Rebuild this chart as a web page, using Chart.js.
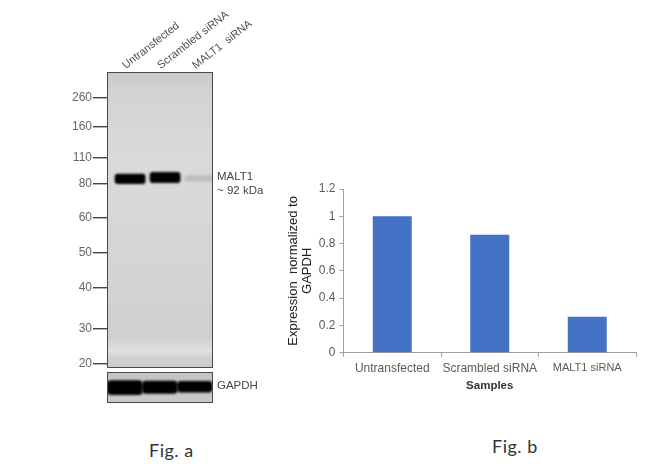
<!DOCTYPE html>
<html>
<head>
<meta charset="utf-8">
<title>MALT1 knockdown</title>
<script src="https://cdn.jsdelivr.net/npm/chart.js@4/dist/chart.umd.min.js"></script>
<style>
html,body{margin:0;padding:0;background:#fff;}
body{position:relative;width:650px;height:475px;overflow:hidden;}
canvas{position:absolute;}
#blot{left:0;top:0;}
#gapdh{left:0;top:370px;}
#bars{left:280px;top:170px;}
.fig{position:absolute;font-family:Lato,sans-serif;font-size:18px;color:#333;letter-spacing:.5px;white-space:nowrap;}
</style>
</head>
<body>
<canvas id="blot" width="270" height="372"></canvas>
<canvas id="gapdh" width="270" height="36"></canvas>
<canvas id="bars" width="370" height="223"></canvas>
<div class="fig" style="left:149px;top:439px;">Fig. a</div>
<div class="fig" style="left:492px;top:435px;">Fig. b</div>
<script>
// lanes of the blot, same three samples as the bar chart
var laneNames = ['Untransfected', 'Scrambled siRNA', 'MALT1  siRNA'];
var laneNumbers = [1, 2, 3];

// ladder: kDa and how far down the membrane it ran (0 top, 1 bottom)
var markerKda = [260, 160, 110, 80, 60, 50, 40, 30, 20];
var markerMigration = [0.088, 0.186, 0.291, 0.378, 0.493, 0.611, 0.730, 0.868, 0.986];

// MALT1 band per lane
var malt1Top = [0.344, 0.338, 0.349];
var malt1Bottom = [0.378, 0.375, 0.370];
var malt1Shade = ['#000000', '#030303', 'rgba(150,150,150,0.38)'];

// GAPDH band per lane
var gapdhTop = [0.27, 0.28, 0.29];
var gapdhBottom = [0.74, 0.70, 0.66];

var sampleNames = ['Untransfected', 'Scrambled siRNA', 'MALT1 siRNA'];
var expression = [1.0, 0.865, 0.264];
var expressionTicks = [0, 0.2, 0.4, 0.6, 0.8, 1, 1.2];

var sans = '"Liberation Sans", Arial, sans-serif';

// grey membrane behind the bands, with a soft blur on the bands themselves
var membrane = {
    id: 'membrane',
    beforeDraw: function(chart, args, opts) {
        var c = chart.ctx, a = chart.chartArea;
        var g = c.createLinearGradient(0, a.top, 0, a.bottom);
        opts.stops.forEach(function(s) { g.addColorStop(s[0], s[1]); });
        c.save();
        c.fillStyle = g;
        c.fillRect(a.left, a.top, a.width, a.height);
        c.restore();
    },
    beforeDatasetsDraw: function(chart) {
        chart.ctx.save();
        chart.ctx.filter = 'blur(1px)';
    },
    afterDatasetsDraw: function(chart) {
        chart.ctx.restore();
    },
    afterDraw: function(chart) {
        var c = chart.ctx, a = chart.chartArea;
        c.save();
        c.strokeStyle = '#4a4a4a';
        c.lineWidth = 1;
        c.strokeRect(a.left + 0.5, a.top + 0.5, a.width - 1, a.height - 1);
        c.restore();
    }
};

function bandPoints(tops, bottoms) {
    var pts = [];
    for (let i = 0; i < laneNumbers.length; i++) {
        pts.push({x: laneNumbers[i], y: [tops[i], bottoms[i]]});
    }
    return pts;
}

// chart.js leaves room for half a tick label at the ends, the panels have to sit exact
function noEndPadding(s) {
    s.paddingLeft = 0;
    s.paddingRight = 0;
    s.paddingTop = 0;
    s.paddingBottom = 0;
}

new Chart(document.getElementById('blot').getContext('2d'), {
    type: 'bar',
    data: {
        datasets: [{
            data: bandPoints(malt1Top, malt1Bottom),
            backgroundColor: malt1Shade,
            borderRadius: 3,
            borderSkipped: false,
            categoryPercentage: 1,
            barPercentage: 0.88
        }]
    },
    plugins: [membrane],
    options: {
        responsive: false,
        animation: false,
        layout: {padding: {bottom: 4}},
        plugins: {
            legend: {display: false},
            tooltip: {enabled: false},
            membrane: {stops: [[0, '#cacaca'], [0.07, '#d3d3d3'], [0.3, '#dadada'], [0.6, '#d5d5d5'], [0.9, '#d0d0d0'], [0.945, '#e0e0e0'], [0.97, '#cfcfcf'], [1, '#cbcbcb']]}
        },
        scales: {
            x: {
                type: 'linear',
                position: 'top',
                offset: false,
                min: 0.34,
                max: 3.37,
                afterBuildTicks: function(s) { s.ticks = laneNumbers.map(function(v) { return {value: v}; }); },
                afterFit: function(s) { s.height = 72; noEndPadding(s); },
                grid: {display: false, drawTicks: false},
                border: {display: false},
                ticks: {
                    autoSkip: false,
                    minRotation: 38,
                    maxRotation: 38,
                    padding: 0,
                    labelOffset: 2,
                    color: '#505050',
                    font: {family: sans, size: 11},
                    callback: function(v, i) { return laneNames[i]; }
                }
            },
            y: {
                reverse: true,
                min: 0,
                max: 1,
                afterBuildTicks: function(s) { s.ticks = markerMigration.map(function(v) { return {value: v}; }); },
                afterFit: function(s) { s.width = 107; noEndPadding(s); },
                border: {display: false},
                grid: {drawOnChartArea: false, tickLength: 14, tickColor: '#444', lineWidth: 1.4},
                ticks: {
                    autoSkip: false,
                    padding: 1,
                    color: '#666',
                    font: {family: sans, size: 12},
                    callback: function(v, i) { return markerKda[i]; }
                }
            },
            bandLabel: {
                axis: 'y',
                position: 'right',
                reverse: true,
                min: 0,
                max: 1,
                afterBuildTicks: function(s) { s.ticks = [{value: malt1Bottom[0]}]; },
                afterFit: function(s) { s.width = 57; noEndPadding(s); },
                border: {display: false},
                grid: {display: false, drawTicks: false},
                ticks: {
                    padding: 4,
                    color: '#444',
                    font: {family: sans, size: 11.5},
                    callback: function() { return ['MALT1', '~ 92 kDa']; }
                }
            }
        }
    }
});

new Chart(document.getElementById('gapdh').getContext('2d'), {
    type: 'bar',
    data: {
        datasets: [{
            data: bandPoints(gapdhTop, gapdhBottom),
            backgroundColor: '#000000',
            borderRadius: 4,
            borderSkipped: false,
            categoryPercentage: 1,
            barPercentage: 1.02
        }]
    },
    plugins: [membrane],
    options: {
        responsive: false,
        animation: false,
        layout: {padding: {left: 107, top: 2, bottom: 3}},
        plugins: {
            legend: {display: false},
            tooltip: {enabled: false},
            membrane: {stops: [[0, '#c4c4c4'], [1, '#c9c9c9']]}
        },
        scales: {
            x: {type: 'linear', display: false, offset: false, min: 0.49, max: 3.52},
            y: {display: false, reverse: true, min: 0, max: 1},
            bandLabel: {
                axis: 'y',
                position: 'right',
                reverse: true,
                min: 0,
                max: 1,
                afterBuildTicks: function(s) { s.ticks = [{value: gapdhBottom[2] - 0.2}]; },
                afterFit: function(s) { s.width = 57; noEndPadding(s); },
                border: {display: false},
                grid: {display: false, drawTicks: false},
                ticks: {
                    padding: 4,
                    color: '#444',
                    font: {family: sans, size: 11.5},
                    callback: function() { return 'GAPDH'; }
                }
            }
        }
    }
});

new Chart(document.getElementById('bars').getContext('2d'), {
    type: 'bar',
    data: {
        labels: sampleNames,
        datasets: [{
            data: expression,
            backgroundColor: '#4472c4',
            categoryPercentage: 0.4,
            barPercentage: 1
        }]
    },
    options: {
        responsive: false,
        animation: false,
        layout: {padding: {top: 19, right: 14, left: 7}},
        plugins: {legend: {display: false}, tooltip: {enabled: false}},
        scales: {
            x: {
                afterFit: function(s) { s.height = 40.3; noEndPadding(s); },
                border: {color: '#a0a0a0'},
                grid: {offset: true, drawOnChartArea: false, tickLength: 4, tickColor: '#a0a0a0'},
                ticks: {
                    autoSkip: false,
                    maxRotation: 0,
                    padding: 5,
                    color: '#595959',
                    font: function(ctx) { return {family: sans, size: ctx.index == 2 ? 11 : 12}; }
                },
                title: {
                    display: true,
                    text: 'Samples',
                    color: '#333',
                    padding: {top: 2, bottom: 0},
                    font: {family: sans, size: 11.5, weight: 'bold'}
                }
            },
            y: {
                min: 0,
                max: 1.2,
                afterBuildTicks: function(s) { s.ticks = expressionTicks.map(function(v) { return {value: v}; }); },
                afterFit: function(s) { s.width = 56.5; noEndPadding(s); },
                border: {color: '#a0a0a0'},
                grid: {drawOnChartArea: false, tickLength: 4, tickColor: '#a0a0a0'},
                ticks: {
                    padding: 4,
                    color: '#595959',
                    font: {family: sans, size: 12},
                    callback: function(v) { return String(v); }
                },
                title: {
                    display: true,
                    text: ['Expression  normalized to', 'GAPDH'],
                    color: '#222',
                    padding: 0,
                    font: {family: sans, size: 13, lineHeight: 1.05}
                }
            }
        }
    }
});
</script>
</body>
</html>
